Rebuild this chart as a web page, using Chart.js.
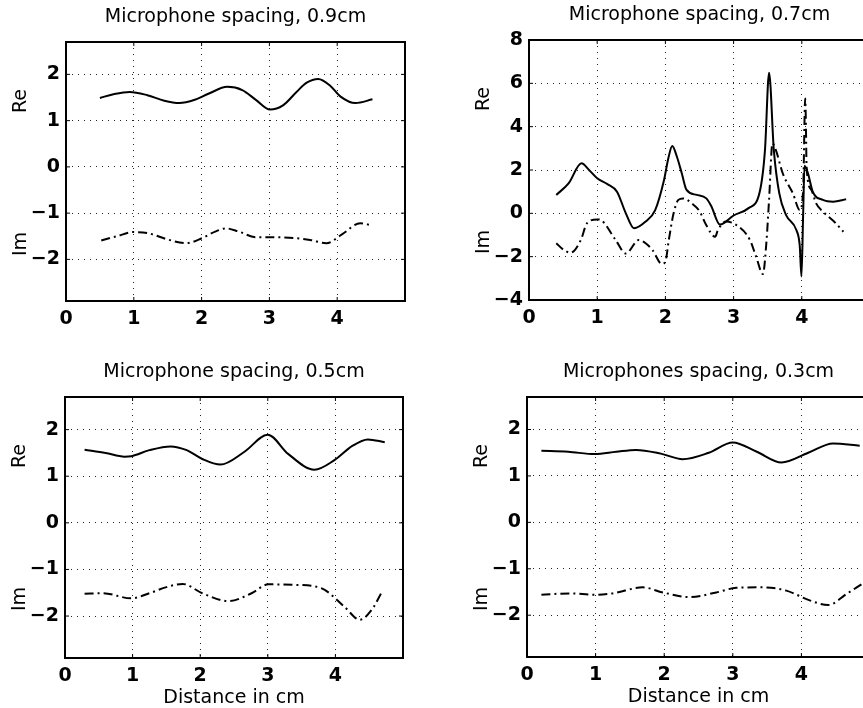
<!DOCTYPE html>
<html>
<head>
<meta charset="utf-8">
<script src="https://cdn.jsdelivr.net/npm/chart.js@4/dist/chart.umd.min.js"></script>
<style>
html, body { margin: 0; padding: 0; background: #fff; overflow: hidden; width: 863px; height: 708px; }
canvas { position: absolute; left: 0; top: 0; }
</style>
</head>
<body>
<canvas id="c09" width="900" height="708"></canvas>
<canvas id="c07" width="900" height="708"></canvas>
<canvas id="c05" width="900" height="708"></canvas>
<canvas id="c03" width="900" height="708"></canvas>
<script>
// tick labels
const xTicks = [0, 1, 2, 3, 4];
const yTicksSmall = [-2, -1, 0, 1, 2];
const yTicksBig = [-4, -2, 0, 2, 4, 6, 8];

// spacing 0.9cm
const re09X = [0.5, 0.7, 0.94, 1.2, 1.45, 1.67, 1.9, 2.1, 2.38, 2.6, 2.8, 3.01, 3.2, 3.4, 3.55, 3.72, 3.9, 4.05, 4.27, 4.52];
const re09Y = [1.49, 1.57, 1.62, 1.55, 1.43, 1.38, 1.45, 1.58, 1.73, 1.66, 1.45, 1.24, 1.33, 1.62, 1.82, 1.90, 1.75, 1.52, 1.38, 1.46];
const im09X = [0.52, 0.75, 0.99, 1.2, 1.5, 1.77, 2.01, 2.2, 2.36, 2.55, 2.8, 3.05, 3.29, 3.6, 3.84, 4.07, 4.34, 4.5];
const im09Y = [-1.59, -1.5, -1.41, -1.43, -1.57, -1.65, -1.54, -1.4, -1.33, -1.4, -1.52, -1.52, -1.53, -1.58, -1.65, -1.46, -1.22, -1.26];

// spacing 0.7cm
const re07X = [0.4, 0.58, 0.77, 0.88, 1.0, 1.15, 1.29, 1.42, 1.54, 1.71, 1.85, 1.98, 2.04, 2.1, 2.17, 2.24, 2.31, 2.46, 2.6, 2.67, 2.8, 3.0, 3.22, 3.38, 3.46, 3.52, 3.59, 3.67, 3.77, 3.92, 3.97, 3.995, 4.02, 4.04, 4.09, 4.16, 4.31, 4.46, 4.65];
const re07Y = [0.85, 1.38, 2.31, 2.0, 1.62, 1.35, 1.0, 0.0, -0.69, -0.38, 0.15, 1.54, 2.5, 3.11, 2.6, 1.85, 1.08, 0.85, 0.69, 0.35, -0.52, -0.1, 0.24, 0.95, 2.92, 6.49, 2.92, 0.92, -0.08, -0.77, -1.5, -2.92, 0.0, 2.2, 1.85, 1.0, 0.62, 0.54, 0.65];
const im07X = [0.4, 0.51, 0.61, 0.76, 0.85, 1.0, 1.07, 1.27, 1.42, 1.61, 1.71, 1.81, 1.95, 2.0, 2.05, 2.12, 2.19, 2.26, 2.39, 2.5, 2.6, 2.73, 2.77, 2.89, 3.04, 3.24, 3.33, 3.43, 3.48, 3.52, 3.57, 3.62, 3.72, 3.87, 3.97, 4.02, 4.05, 4.06, 4.07, 4.14, 4.21, 4.31, 4.5, 4.61];
const im07Y = [-1.38, -1.69, -1.82, -1.23, -0.46, -0.28, -0.34, -1.23, -1.85, -1.23, -1.38, -1.69, -2.34, -2.23, -1.23, 0.0, 0.62, 0.69, 0.45, 0.1, -0.55, -1.08, -0.77, -0.38, -0.54, -1.23, -2.0, -2.8, -1.38, 0.62, 3.23, 2.92, 1.85, 0.92, 0.15, 1.08, 5.3, 4.15, 2.15, 1.08, 0.46, 0.08, -0.46, -0.85];

// spacing 0.5cm
const re05X = [0.29, 0.6, 0.88, 0.98, 1.25, 1.56, 1.8, 2.03, 2.3, 2.65, 3.0, 3.3, 3.69, 3.99, 4.25, 4.48, 4.73];
const re05Y = [1.57, 1.5, 1.42, 1.43, 1.56, 1.64, 1.56, 1.37, 1.25, 1.52, 1.89, 1.48, 1.14, 1.35, 1.65, 1.79, 1.73];
const im05X = [0.29, 0.56, 0.98, 1.25, 1.5, 1.74, 2.03, 2.42, 2.76, 3.01, 3.4, 3.79, 4.14, 4.36, 4.53, 4.7];
const im05Y = [-1.52, -1.51, -1.62, -1.51, -1.38, -1.31, -1.51, -1.68, -1.51, -1.32, -1.33, -1.4, -1.81, -2.08, -1.88, -1.45];

// spacing 0.3cm
const re03X = [0.21, 0.6, 0.99, 1.3, 1.59, 1.95, 2.27, 2.65, 3.0, 3.35, 3.71, 4.1, 4.46, 4.85];
const re03Y = [1.54, 1.52, 1.47, 1.52, 1.56, 1.48, 1.36, 1.5, 1.72, 1.52, 1.29, 1.5, 1.7, 1.65];
const im03X = [0.21, 0.62, 0.99, 1.25, 1.69, 1.98, 2.37, 2.76, 3.05, 3.44, 3.78, 4.12, 4.39, 4.66, 4.88];
const im03Y = [-1.56, -1.53, -1.56, -1.53, -1.4, -1.51, -1.61, -1.51, -1.41, -1.4, -1.47, -1.68, -1.78, -1.54, -1.33];

const FONT = '"DejaVu Sans", sans-serif';
const Y_AXIS_W = 60;   // room for the y tick labels
const X_AXIS_H = 36;   // room for the x tick labels

function pts(xs, ys) {
    return xs.map((x, i) => ({ x: x, y: ys[i] }));
}

function minus(v) {
    return v < 0 ? '\u2212' + Math.abs(v) : String(v);
}

const framePlugin = {
    id: 'frame',
    afterDraw(chart, args, opts) {
        const { ctx, chartArea: a, scales } = chart;
        ctx.save();
        ctx.strokeStyle = '#000';
        ctx.lineWidth = 1;
        // little inward ticks like matlab
        ctx.beginPath();
        scales.x.ticks.forEach(t => {
            const px = scales.x.getPixelForValue(t.value);
            ctx.moveTo(px, a.bottom); ctx.lineTo(px, a.bottom - 4);
            ctx.moveTo(px, a.top); ctx.lineTo(px, a.top + 4);
        });
        scales.y.ticks.forEach(t => {
            const py = scales.y.getPixelForValue(t.value);
            ctx.moveTo(a.left, py); ctx.lineTo(a.left + 4, py);
            ctx.moveTo(a.right, py); ctx.lineTo(a.right - 4, py);
        });
        ctx.stroke();
        ctx.lineWidth = 2;
        ctx.strokeRect(a.left, a.top, a.right - a.left, a.bottom - a.top);

        ctx.fillStyle = '#000';
        ctx.font = '19px ' + FONT;
        ctx.textAlign = 'center';
        ctx.textBaseline = 'middle';
        const cx = (a.left + a.right) / 2;
        ctx.fillText(opts.title, cx, a.top - 25);
        if (opts.xLabel) ctx.fillText(opts.xLabel, cx, a.bottom + 40);

        ctx.translate(a.left - 45, 0);
        ctx.rotate(-Math.PI / 2);
        ctx.fillText('Re', -(a.top + 59), 0);
        ctx.fillText('Im', -(a.top + 202), 0);
        ctx.restore();
    }
};

function makePlot(id, box, title, xLabel, yMin, yMax, yTicks, reX, reY, imX, imY) {
    new Chart(document.getElementById(id), {
        type: 'line',
        data: {
            datasets: [{
                data: pts(reX, reY),
                borderColor: '#000',
                borderWidth: 2,
                pointRadius: 0,
                fill: false,
                cubicInterpolationMode: 'monotone'
            }, {
                data: pts(imX, imY),
                borderColor: '#000',
                borderWidth: 2,
                borderDash: [9, 4, 2, 4],
                pointRadius: 0,
                fill: false,
                cubicInterpolationMode: 'monotone'
            }]
        },
        options: {
            responsive: false,
            animation: false,
            events: [],
            layout: {
                padding: {
                    left: box.left - Y_AXIS_W,
                    top: box.top,
                    right: 900 - box.right,
                    bottom: 708 - box.bottom - X_AXIS_H
                }
            },
            plugins: {
                legend: { display: false },
                tooltip: { enabled: false },
                frame: { title: title, xLabel: xLabel }
            },
            scales: {
                x: {
                    type: 'linear',
                    min: 0,
                    max: 5,
                    afterFit: s => { s.height = X_AXIS_H; },
                    afterBuildTicks: s => { s.ticks = xTicks.map(v => ({ value: v })); },
                    grid: { color: '#222', lineWidth: 1, drawTicks: false },
                    border: { display: false, dash: [1, 5] },
                    ticks: { padding: 7, color: '#000', font: { family: FONT, size: 19, weight: 'bold' }, maxRotation: 0, autoSkip: false, callback: v => minus(v) }
                },
                y: {
                    type: 'linear',
                    min: yMin,
                    max: yMax,
                    afterFit: s => { s.width = Y_AXIS_W; },
                    afterBuildTicks: s => { s.ticks = yTicks.map(v => ({ value: v })); },
                    grid: { color: '#222', lineWidth: 1, drawTicks: false },
                    border: { display: false, dash: [1, 5] },
                    ticks: { padding: 6, color: '#000', font: { family: FONT, size: 19, weight: 'bold' }, autoSkip: false, callback: v => minus(v) }
                }
            }
        },
        plugins: [framePlugin]
    });
}

makePlot('c09', { left: 66, top: 42, right: 405, bottom: 301 }, 'Microphone spacing, 0.9cm', null, -2.9, 2.7, yTicksSmall, re09X, re09Y, im09X, im09Y);
makePlot('c07', { left: 529, top: 40, right: 870, bottom: 300 }, 'Microphone spacing, 0.7cm', null, -4, 8, yTicksBig, re07X, re07Y, im07X, im07Y);
makePlot('c05', { left: 65, top: 397, right: 403, bottom: 658 }, 'Microphone spacing, 0.5cm', 'Distance in cm', -2.9, 2.7, yTicksSmall, re05X, re05Y, im05X, im05Y);
makePlot('c03', { left: 527, top: 397, right: 870, bottom: 657 }, 'Microphones spacing, 0.3cm', 'Distance in cm', -2.9, 2.7, yTicksSmall, re03X, re03Y, im03X, im03Y);
</script>
</body>
</html>
